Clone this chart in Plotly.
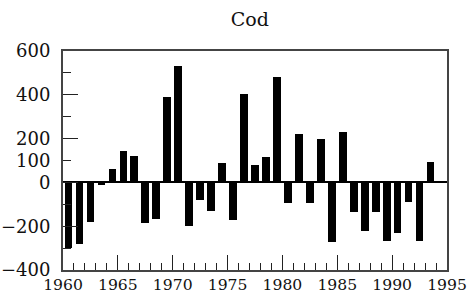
import plotly.graph_objects as go

years = list(range(1960, 1994))
values = [-298, -283, -182, -14, 61, 145, 121, -186, -167, 391, 532, -200, -79, -129, 88, -173, 402,
          79, 115, 482, -94, 221, -94, 200, -270, 230, -136, -224, -136, -268, -233, -91, -268, 91]
y_tick_vals = [-400, -200, 0, 100, 200, 400, 600]
y_tick_text = ["\u2212400", "\u2212200", "0", "100", "200", "400", "600"]
x_tick_vals = [1960, 1965, 1970, 1975, 1980, 1985, 1990, 1995]
title_text = "Cod"

font = dict(family="DejaVu Serif", size=18, color="#111")

fig = go.Figure()
fig.add_trace(go.Bar(x=years, y=values, offset=0.15, width=0.7,
                     marker=dict(color="black", line=dict(width=0)), showlegend=False))
# invisible trace for the label-only axis
fig.add_trace(go.Scatter(x=[1960], y=[0], yaxis="y2", mode="markers",
                         marker=dict(opacity=0), showlegend=False, hoverinfo="skip"))

fig.update_layout(
    width=467, height=300,
    margin=dict(l=63, r=20, t=51, b=30, autoexpand=False),
    paper_bgcolor="white", plot_bgcolor="white",
    font=font,
    title=dict(text=title_text, x=0.535, xanchor="center", y=0.937, yanchor="middle",
               font=dict(family="DejaVu Serif", size=19, color="#111")),
    bargap=0,
    xaxis=dict(range=[1960, 1995], tickvals=x_tick_vals, ticks="inside", ticklen=15,
               tickcolor="#222", tickwidth=1.3, automargin=False, ticklabeloverflow="allow",
               minor=dict(dtick=1, tick0=1960, ticks="inside", ticklen=7, tickcolor="#222", tickwidth=1.1),
               showline=True, linecolor="#444", linewidth=1.5, mirror=True,
               showgrid=False, zeroline=False, tickfont=dict(family="DejaVu Serif", size=15.6, color="#111")),
    yaxis=dict(range=[-400, 600], tickvals=[-400, -200, 0, 200, 400, 600], ticks="inside", ticklen=15,
               tickcolor="#222", tickwidth=1.3, showticklabels=False, automargin=False,
               minor=dict(dtick=100, tick0=0, ticks="inside", ticklen=8, tickcolor="#222", tickwidth=1.1),
               showline=True, linecolor="#444", linewidth=1.5, mirror=True,
               showgrid=False, zeroline=True, zerolinecolor="black", zerolinewidth=1.5),
    yaxis2=dict(range=[-400, 600], overlaying="y", side="left", tickvals=y_tick_vals,
                ticktext=y_tick_text, ticks="outside", ticklen=8, tickcolor="rgba(0,0,0,0)",
                automargin=False, ticklabeloverflow="allow",
                showgrid=False, zeroline=False, showline=False, tickfont=font),
)

fig.write_html("out.html", config={"displayModeBar": False},
               post_script="document.body.style.margin='0px';")
